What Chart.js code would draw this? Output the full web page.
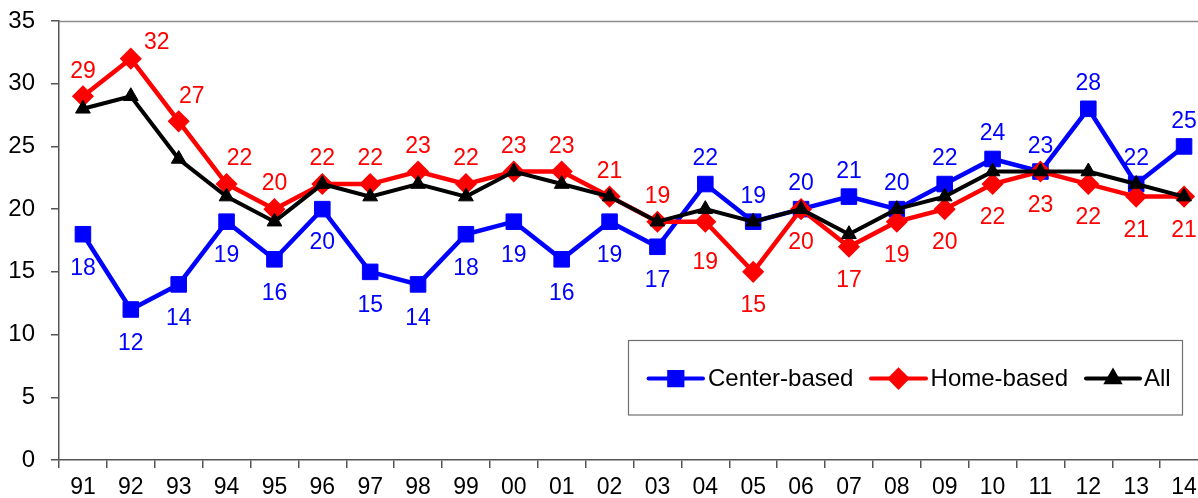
<!DOCTYPE html>
<html><head><meta charset="utf-8">
<script src="https://cdn.jsdelivr.net/npm/chart.js@4/dist/chart.umd.min.js"></script>
<style>html,body{margin:0;padding:0;overflow:hidden;background:#fff}canvas{display:block}</style>
</head><body>
<canvas id="c" width="1220" height="498"></canvas>
<script>
const years = ['91','92','93','94','95','96','97','98','99','00','01','02','03','04','05','06','07','08','09','10','11','12','13','14'];
const centerBased = [18,12,14,19,16,20,15,14,18,19,16,19,17,22,19,20,21,20,22,24,23,28,22,25];
const homeBased   = [29,32,27,22,20,22,22,23,22,23,23,21,19,19,15,20,17,19,20,22,23,22,21,21];
const allCare     = [28,29,24,21,19,22,21,22,21,23,22,21,19,20,19,20,18,20,21,23,23,23,22,21];
const yMin = 0, yMax = 35, yStep = 5;
const seriesNames = ['Center-based','Home-based','All'];
// label placement codes: a = above, b = below, r = upper right, ar = above slightly right, bb = further below
const centerLabelPos = ['b','b','b','b','b','b','b','b','b','b','b','b','b','a','a','a','a','a','a','a','a','a','a','a'];
const homeLabelPos   = ['a','r','ar','ar','a','a','a','a','a','a','a','a','a','bb','b','b','b','b','b','b','b','b','b','b'];

const FONT = '"Liberation Sans", Arial, sans-serif';
const posOffsets = { a:[0,-25], b:[0,34], r:[26,-16], ar:[13,-25], bb:[0,41] };

const labelPlugin = {
  id: 'extras',
  afterDatasetsDraw(chart) {
    const ctx = chart.ctx;
    const area = chart.chartArea;
    // top frame line
    ctx.save();
    ctx.strokeStyle = '#8c8c8c';
    ctx.lineWidth = 1.5;
    ctx.beginPath();
    ctx.moveTo(area.left, area.top + 0.5);
    ctx.lineTo(area.right, area.top + 0.5);
    ctx.stroke();
    ctx.restore();

    // data labels
    const cfg = [[0, centerLabelPos, '#0000FF'], [1, homeLabelPos, '#FF0000']];
    ctx.save();
    ctx.font = '23px ' + FONT;
    ctx.textAlign = 'center';
    ctx.textBaseline = 'middle';
    cfg.forEach(([di, pos, color]) => {
      const meta = chart.getDatasetMeta(di);
      const data = chart.data.datasets[di].data;
      ctx.fillStyle = color;
      meta.data.forEach((pt, i) => {
        const off = posOffsets[pos[i]];
        ctx.fillText(String(data[i]), pt.x + off[0], pt.y + off[1]);
      });
    });
    ctx.restore();

    // legend box
    const bx = 628, by = 340, bw = 554, bh = 74.5, cy = 378.6;
    ctx.save();
    ctx.fillStyle = '#ffffff';
    ctx.fillRect(bx, by, bw, bh);
    ctx.strokeStyle = '#707070';
    ctx.lineWidth = 1.2;
    ctx.strokeRect(bx + 0.5, by + 0.5, bw, bh);
    const items = [[648.6, 703, 708], [871, 926, 930.6], [1086, 1140, 1144]];
    chart.data.datasets.forEach((ds, i) => {
      const [x1, x2, tx] = items[i];
      ctx.strokeStyle = ds.borderColor;
      ctx.lineWidth = 4;
      ctx.lineCap = 'round';
      ctx.beginPath();
      ctx.moveTo(x1, cy);
      ctx.lineTo(x2, cy);
      ctx.stroke();
      Chart.helpers.drawPoint(ctx, {
        pointStyle: ds.pointStyle,
        radius: ds.pointRadius * 0.85,
        borderWidth: ds.pointBorderWidth,
        rotation: 0
      }, (x1 + x2) / 2, cy);
      ctx.fillStyle = ds.pointBackgroundColor;
      ctx.fill();
      ctx.fillStyle = '#000';
      ctx.font = '24px ' + FONT;
      ctx.textAlign = 'left';
      ctx.textBaseline = 'middle';
      ctx.fillText(seriesNames[i], tx, cy + 1);
    });
    ctx.restore();
  }
};

new Chart(document.getElementById('c'), {
  type: 'line',
  data: {
    labels: years,
    datasets: [
      { label: seriesNames[0], data: centerBased, borderColor: '#0000FF', backgroundColor: '#0000FF',
        pointBackgroundColor: '#0000FF', pointBorderColor: '#0000FF', pointStyle: 'rect',
        pointRadius: 11, pointBorderWidth: 1, borderWidth: 4.5, order: 2, tension: 0 },
      { label: seriesNames[1], data: homeBased, borderColor: '#FF0000', backgroundColor: '#FF0000',
        pointBackgroundColor: '#FF0000', pointBorderColor: '#FF0000', pointStyle: 'rectRot',
        pointRadius: 10, pointBorderWidth: 1.5, borderWidth: 4.5, order: 1, tension: 0 },
      { label: seriesNames[2], data: allCare, borderColor: '#000000', backgroundColor: '#000000',
        pointBackgroundColor: '#000000', pointBorderColor: '#000000', pointStyle: 'triangle',
        pointRadius: 8.5, pointBorderWidth: 1, borderWidth: 4, order: 0, tension: 0 }
    ]
  },
  options: {
    responsive: false,
    animation: false,
    devicePixelRatio: 1,
    layout: { padding: { top: 21, right: 11.4, left: 0, bottom: 0 } },
    plugins: { legend: { display: false }, tooltip: { enabled: false } },
    scales: {
      x: {
        type: 'category',
        offset: true,
        grid: { offset: true, drawOnChartArea: false, drawTicks: true, tickLength: 8, color: '#555', lineWidth: 1.5 },
        border: { display: true, color: '#555', width: 1.5 },
        ticks: { color: '#000', font: { family: FONT, size: 23 }, padding: 6, maxRotation: 0, autoSkip: false },
        afterFit(scale) { scale.height = 38; scale.paddingLeft = 0; scale.paddingRight = 0; }
      },
      y: {
        min: yMin, max: yMax,
        grid: { drawOnChartArea: false, drawTicks: true, tickLength: 8, color: '#555', lineWidth: 1.5 },
        border: { display: true, color: '#555', width: 1.5 },
        ticks: { stepSize: yStep, color: '#000', font: { family: FONT, size: 24 }, padding: 16 },
        afterFit(scale) { scale.width = 59; scale.paddingTop = 0; scale.paddingBottom = 0; }
      }
    }
  },
  plugins: [labelPlugin]
});
</script>
</body></html>
